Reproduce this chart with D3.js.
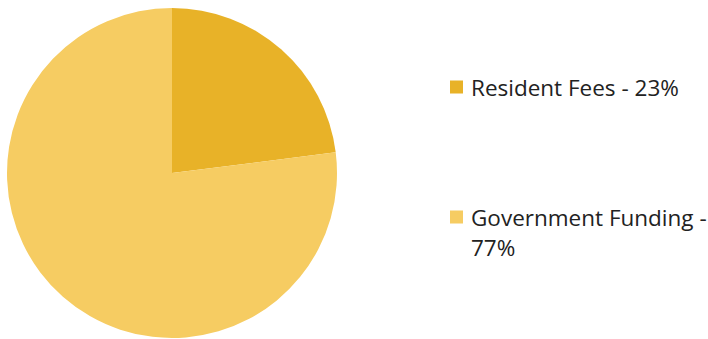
<!DOCTYPE html>
<html>
<head>
<meta charset="utf-8">
<script src="https://cdn.jsdelivr.net/npm/d3@7"></script>
<style>
  body { margin: 0; background: #fff; }
  svg { display: block; }
</style>
</head>
<body>
<div id="chart"></div>
<script>
const categories = ['Resident Fees', 'Government Funding'];
const shares = [23, 77];
const legendLines = [['Resident Fees - 23%'], ['Government Funding -', '77%']];
const colors = ['#e8b228', '#f6cc62'];

const width = 708;
const height = 339;
const cx = 172;
const cy = 173;
const radius = 165;

const svg = d3.select('#chart')
  .append('svg')
  .attr('width', width)
  .attr('height', height);

const data = categories.map((c, i) => ({ name: c, value: shares[i] }));

const color = d3.scaleOrdinal().domain(categories).range(colors);

const pie = d3.pie().sort(null).value((d) => d.value);
const arc = d3.arc().innerRadius(0).outerRadius(radius);

// Pie slices
svg.append('g')
  .attr('transform', `translate(${cx},${cy})`)
  .selectAll('path')
  .data(pie(data))
  .enter()
  .append('path')
  .attr('d', arc)
  .attr('fill', (d) => color(d.data.name));

// Legend
const legendY = d3.scalePoint().domain(categories).range([87, 217]);
const legend = svg.append('g')
  .selectAll('g')
  .data(data)
  .enter()
  .append('g')
  .attr('transform', (d) => `translate(450,${legendY(d.name)})`);

legend.append('rect')
  .attr('x', 0)
  .attr('y', -6.5)
  .attr('width', 13)
  .attr('height', 13)
  .attr('fill', (d) => color(d.name));

legend.append('text')
  .attr('x', 21)
  .attr('y', 9)
  .style('font-family', '"Open Sans", sans-serif')
  .style('font-size', '22.5px')
  .style('fill', '#222')
  .selectAll('tspan')
  .data((d, i) => legendLines[i])
  .enter()
  .append('tspan')
  .attr('x', 21)
  .attr('dy', (d, i) => (i === 0 ? 0 : 30))
  .text((d) => d);
</script>
</body>
</html>
